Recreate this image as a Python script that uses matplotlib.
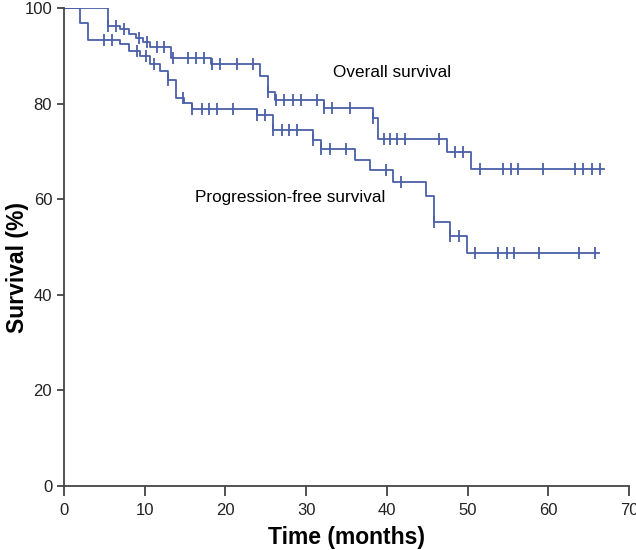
import numpy as np
import matplotlib.pyplot as plt

plt.rcParams['font.family'] = ['Liberation Sans', 'DejaVu Sans']

# Overall survival: step times (months) and survival (%) after each step
os_times = [0, 5.4, 7.0, 8.0, 8.9, 9.8, 10.7, 13.3, 18.2, 24.3, 25.3, 26.1, 32.2, 38.3, 38.9, 47.4, 50.4]
os_surv = [100, 96.3, 95.5, 94.6, 93.7, 92.8, 91.9, 89.5, 88.2, 85.8, 82.5, 80.8, 79.1, 76.9, 72.6, 69.9, 66.3]
os_end = 66.9
os_censor = [5.5, 6.4, 7.4, 9.3, 10.3, 11.5, 12.4, 13.5, 15.4, 16.4, 17.3, 18.3, 19.3, 21.4, 23.4,
             25.3, 26.3, 27.2, 28.4, 29.4, 31.4, 32.2, 33.2, 35.4, 38.3, 39.6, 40.4, 41.3, 42.3,
             46.5, 48.4, 49.4, 51.5, 54.4, 55.4, 56.3, 59.4, 63.3, 64.3, 65.4, 66.4]

# Progression-free survival
pfs_times = [0, 2.0, 3.0, 6.9, 8.0, 9.4, 10.6, 11.9, 12.9, 13.9, 14.9, 15.8, 23.9, 25.9, 30.9, 31.9,
             36.1, 37.9, 40.8, 44.9, 45.9, 47.8, 49.9]
pfs_surv = [100, 96.8, 93.3, 92.4, 91.0, 90.0, 88.2, 86.9, 84.9, 81.1, 80.1, 78.9, 77.6, 74.4, 72.4,
            70.4, 68.2, 66.1, 63.5, 60.7, 55.2, 52.4, 48.8]
pfs_end = 66.3
pfs_censor = [4.9, 5.9, 9.0, 10.2, 11.1, 12.9, 14.8, 15.8, 17.1, 18.0, 18.9, 21.0, 23.9, 24.9,
              25.9, 27.0, 27.9, 28.9, 30.9, 31.9, 33.0, 34.9, 39.9, 41.8, 45.9, 47.8, 48.9,
              50.9, 53.8, 54.9, 55.8, 58.8, 63.8, 65.8]

color = '#4a5fa8'


def draw_km(ax, times, surv, end, censor):
    t = list(times) + [end]
    s = list(surv) + [surv[-1]]
    ax.step(t, s, where='post', color=color, lw=1.3)
    # censor ticks sit on the curve value at that time
    idx = np.searchsorted(times, censor, side='right') - 1
    cy = np.array(surv)[idx]
    ax.plot(censor, cy, ls='none', marker='|', ms=9, mew=1.3, color=color)


fig = plt.figure(figsize=(6.36, 5.5), dpi=100)
ax = fig.add_axes([0.1006, 0.1164, 0.8884, 0.8691])

draw_km(ax, os_times, os_surv, os_end, os_censor)
draw_km(ax, pfs_times, pfs_surv, pfs_end, pfs_censor)

ax.text(33.3, 86.4, 'Overall survival', fontsize=12.3, va='center', ha='left')
ax.text(16.2, 60.3, 'Progression-free survival', fontsize=12.3, va='center', ha='left')

ax.set_xlim(0, 70)
ax.set_ylim(0, 100)
ax.set_xticks(range(0, 71, 10))
ax.set_yticks(range(0, 101, 20))
ax.tick_params(axis='x', direction='out', length=7.2, width=1.2, pad=5, labelsize=12, colors='#333333', labelcolor='#222222')
ax.tick_params(axis='y', direction='out', length=5, width=1.2, pad=3.5, labelsize=12, colors='#333333', labelcolor='#222222')
for side in ['top', 'right']:
    ax.spines[side].set_visible(False)
for side in ['left', 'bottom']:
    ax.spines[side].set_linewidth(1.3)
    ax.spines[side].set_color('#444444')

ax.set_xlabel('Time (months)', fontsize=16.5, fontweight='bold', va='center')
ax.xaxis.set_label_coords(0.5, -0.107)
ax.set_ylabel('Survival (%)', fontsize=16.5, fontweight='bold', va='center')
ax.yaxis.set_label_coords(-0.083, 0.458)

fig.savefig('out.png', dpi=100)
